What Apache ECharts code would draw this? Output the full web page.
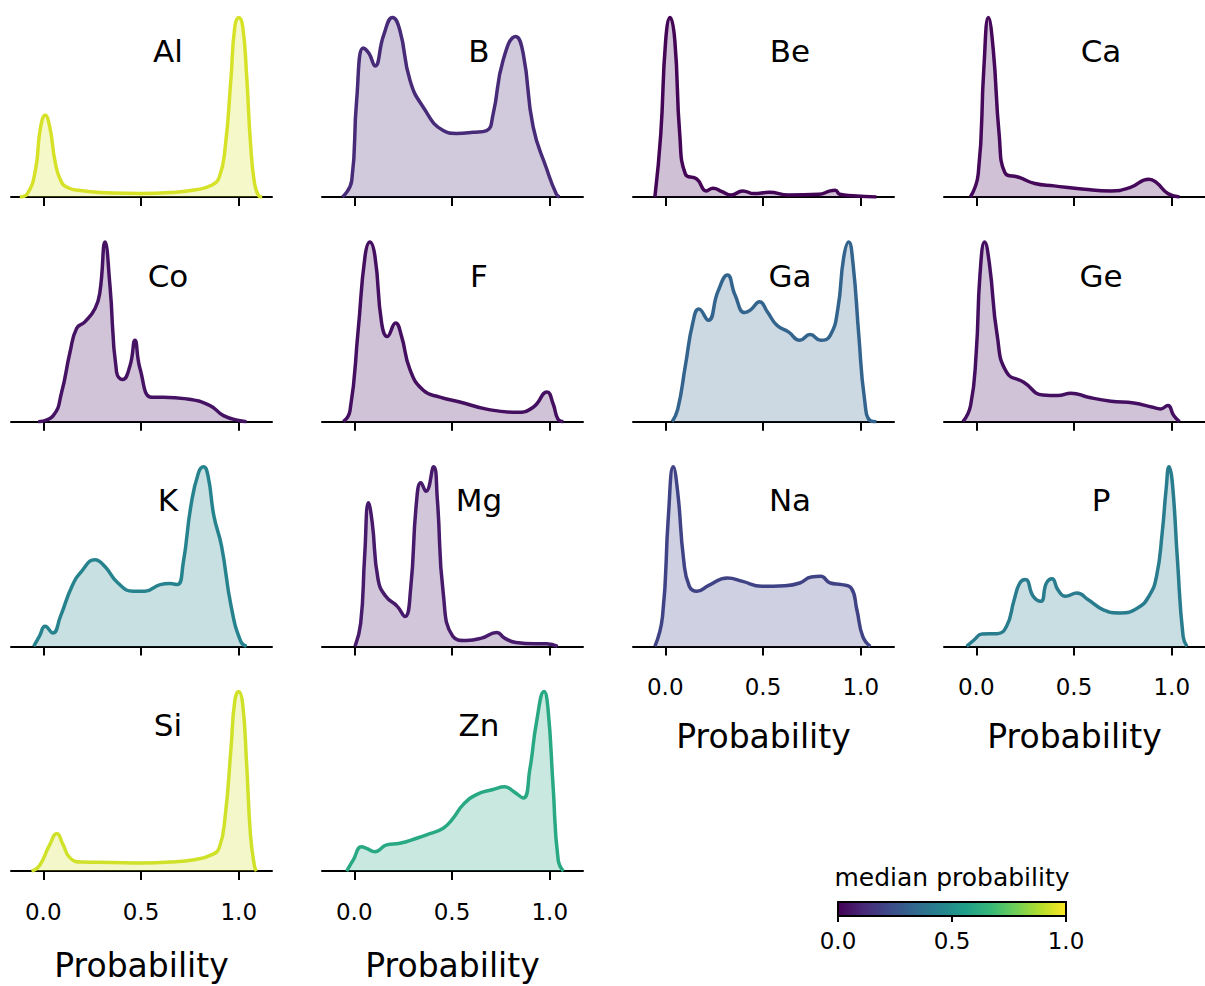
<!DOCTYPE html>
<html lang="en">
<head>
<meta charset="UTF-8" />
<title>Probability densities</title>
<style>
  body { margin: 0; padding: 0; background: #fff; }
  .chart { width: 1205px; height: 986px; }
</style>
</head>
<body>
<div class="chart"></div>
<script src="https://cdn.jsdelivr.net/npm/echarts@6/dist/echarts.min.js"></script>
<script>
// panel order, row by row
const elements = ['Al', 'B', 'Be', 'Ca', 'Co', 'F', 'Ga', 'Ge', 'K', 'Mg', 'Na', 'P', 'Si', 'Zn'];
// median probability of each element (drives the colour)
const medians = [0.94, 0.12, 0.01, 0.02, 0.05, 0.04, 0.32, 0.04, 0.45, 0.07, 0.2, 0.42, 0.93, 0.6];
const tickValues = [0, 0.5, 1];
const cbarTicks = [0, 0.5, 1];

// density curves, normalised so the highest peak is 1
const alCurve = [[-0.12,0],[-0.08,0.02],[-0.04,0.15],[-0.015,0.38],[0.01,0.455],[0.035,0.38],[0.06,0.2],[0.09,0.09],[0.13,0.05],[0.2,0.035],[0.35,0.022],[0.5,0.02],[0.65,0.025],[0.78,0.04],[0.86,0.065],[0.9,0.11],[0.93,0.27],[0.96,0.66],[0.98,0.95],[1.0,1.0],[1.02,0.95],[1.04,0.68],[1.06,0.3],[1.08,0.08],[1.1,0.01],[1.12,0]];
const bCurve = [[-0.06,0],[-0.013,0.09],[0.012,0.536],[0.046,0.83],[0.075,0.8],[0.106,0.73],[0.15,0.9],[0.196,1.0],[0.233,0.93],[0.285,0.65],[0.353,0.5],[0.455,0.37],[0.523,0.354],[0.608,0.36],[0.677,0.37],[0.71,0.46],[0.761,0.76],[0.826,0.894],[0.864,0.8],[0.915,0.39],[0.983,0.16],[1.034,0.015],[1.05,0]];
const beCurve = [[-0.053,0],[-0.023,0.35],[0.002,0.87],[0.025,1.0],[0.049,0.87],[0.074,0.35],[0.103,0.127],[0.162,0.1],[0.21,0.034],[0.244,0.049],[0.29,0.03],[0.337,0.011],[0.396,0.034],[0.454,0.019],[0.532,0.026],[0.63,0.011],[0.786,0.015],[0.844,0.034],[0.87,0.037],[0.893,0.015],[0.96,0.007],[1.08,0]];
const caCurve = [[-0.03,0],[0.01,0.127],[0.039,0.72],[0.062,1.0],[0.087,0.82],[0.117,0.35],[0.146,0.136],[0.223,0.108],[0.3,0.075],[0.398,0.062],[0.553,0.043],[0.689,0.034],[0.786,0.052],[0.883,0.099],[0.922,0.08],[0.98,0.019],[1.04,0]];
const coCurve = [[-0.026,0],[0.051,0.034],[0.094,0.164],[0.137,0.388],[0.171,0.52],[0.213,0.556],[0.265,0.63],[0.29,0.724],[0.316,1.0],[0.341,0.76],[0.375,0.276],[0.406,0.235],[0.444,0.313],[0.469,0.453],[0.495,0.295],[0.555,0.136],[0.614,0.136],[0.734,0.127],[0.853,0.09],[0.922,0.034],[1.007,0.005],[1.04,0]];
const fCurve = [[-0.056,0],[-0.022,0.06],[0.02,0.51],[0.055,0.92],[0.08,1.0],[0.106,0.92],[0.14,0.55],[0.169,0.475],[0.211,0.55],[0.242,0.475],[0.285,0.29],[0.353,0.175],[0.438,0.137],[0.54,0.11],[0.677,0.07],[0.83,0.052],[0.915,0.08],[0.986,0.165],[1.017,0.1],[1.042,0.015],[1.07,0]];
const gaCurve = [[0.035,0],[0.064,0.07],[0.103,0.313],[0.142,0.556],[0.172,0.627],[0.22,0.565],[0.269,0.724],[0.318,0.817],[0.357,0.705],[0.406,0.608],[0.435,0.621],[0.483,0.668],[0.522,0.612],[0.571,0.537],[0.63,0.5],[0.688,0.453],[0.741,0.485],[0.795,0.453],[0.844,0.481],[0.883,0.63],[0.912,0.91],[0.938,1.0],[0.961,0.873],[0.99,0.481],[1.019,0.127],[1.049,0.005],[1.08,0]];
const geCurve = [[-0.068,0],[-0.029,0.09],[0.0,0.388],[0.019,0.817],[0.043,1.0],[0.068,0.873],[0.107,0.481],[0.155,0.276],[0.243,0.22],[0.34,0.149],[0.417,0.146],[0.485,0.159],[0.573,0.136],[0.689,0.114],[0.806,0.104],[0.903,0.08],[0.942,0.071],[0.98,0.09],[1.01,0.034],[1.04,0]];
const kCurve = [[-0.049,0],[-0.02,0.056],[0.01,0.112],[0.049,0.074],[0.088,0.167],[0.147,0.335],[0.196,0.418],[0.265,0.483],[0.314,0.446],[0.382,0.353],[0.461,0.307],[0.52,0.307],[0.598,0.344],[0.647,0.35],[0.686,0.344],[0.716,0.465],[0.755,0.781],[0.794,0.967],[0.82,1.0],[0.843,0.948],[0.873,0.725],[0.912,0.558],[0.961,0.223],[1.01,0.028],[1.04,0]];
const mgCurve = [[0.004,0],[0.033,0.13],[0.053,0.5],[0.073,0.8],[0.092,0.688],[0.122,0.372],[0.161,0.279],[0.22,0.223],[0.259,0.167],[0.288,0.316],[0.318,0.8],[0.341,0.911],[0.367,0.864],[0.406,1.0],[0.425,0.818],[0.455,0.297],[0.504,0.056],[0.573,0.033],[0.651,0.046],[0.729,0.078],[0.769,0.046],[0.827,0.022],[0.925,0.015],[0.984,0.015],[1.04,0]];
const naCurve = [[-0.053,0],[-0.014,0.167],[0.016,0.725],[0.041,1.0],[0.064,0.855],[0.094,0.483],[0.123,0.335],[0.162,0.307],[0.22,0.338],[0.318,0.381],[0.396,0.362],[0.493,0.335],[0.61,0.338],[0.688,0.353],[0.747,0.387],[0.795,0.39],[0.844,0.353],[0.903,0.344],[0.951,0.325],[0.98,0.204],[1.01,0.056],[1.049,0]];
const pCurve = [[-0.049,0],[-0.01,0.037],[0.029,0.069],[0.107,0.071],[0.155,0.112],[0.194,0.26],[0.223,0.353],[0.252,0.372],[0.291,0.279],[0.33,0.251],[0.359,0.353],[0.388,0.377],[0.417,0.316],[0.456,0.279],[0.515,0.297],[0.573,0.26],[0.65,0.204],[0.738,0.186],[0.825,0.214],[0.883,0.279],[0.922,0.39],[0.951,0.632],[0.971,0.874],[0.986,1.0],[1.003,0.911],[1.029,0.483],[1.058,0.056],[1.078,0]];
const siCurve = [[-0.06,0],[-0.02,0.03],[0.03,0.14],[0.07,0.21],[0.1,0.15],[0.14,0.07],[0.2,0.05],[0.35,0.048],[0.5,0.045],[0.65,0.05],[0.78,0.065],[0.86,0.09],[0.9,0.13],[0.93,0.3],[0.96,0.68],[0.98,0.95],[1.0,1.0],[1.02,0.93],[1.04,0.6],[1.06,0.2],[1.08,0.03],[1.09,0]];
const znCurve = [[-0.039,0],[-0.005,0.062],[0.037,0.136],[0.063,0.127],[0.106,0.108],[0.165,0.146],[0.233,0.155],[0.319,0.183],[0.37,0.202],[0.455,0.239],[0.506,0.295],[0.557,0.37],[0.625,0.426],[0.71,0.454],[0.77,0.469],[0.813,0.445],[0.864,0.407],[0.898,0.566],[0.932,0.828],[0.971,1.0],[0.991,0.903],[1.017,0.473],[1.043,0.062],[1.07,0]];

const curves = [alCurve, bCurve, beCurve, caCurve, coCurve, fCurve, gaCurve, geCurve,
  kCurve, mgCurve, naCurve, pCurve, siCurve, znCurve];

const viridis = ['#440154', '#482878', '#3e4989', '#31688e', '#26828e',
  '#1f9e89', '#35b779', '#6ece58', '#b5de2b', '#fde725'];

const font = 'DejaVu Sans';
// which panels carry the tick labels and the axis title
const labelled = ['Na', 'P', 'Si', 'Zn'];

const container = document.querySelector('.chart');
const chart = echarts.init(container, null, { renderer: 'svg' });

const grids = [], xAxes = [], yAxes = [], series = [], graphics = [];
elements.forEach((el, i) => {
  const col = i % 4, row = Math.floor(i / 4);
  const left = 11 + col * 311;
  const top = 12 + row * 224.7;
  const color = echarts.color.lerp(medians[i], viridis);
  const showLab = labelled.indexOf(el) >= 0;
  grids.push({ left: left, top: top, width: 261, height: 185 });
  xAxes.push({
    gridIndex: i, type: 'value', min: -0.165, max: 1.17,
    axisLine: { lineStyle: { color: '#000', width: 2 } },
    axisTick: { show: true, customValues: tickValues, length: 9, lineStyle: { color: '#000', width: 2 } },
    axisLabel: {
      show: showLab, customValues: tickValues, formatter: v => v.toFixed(1),
      fontSize: 23, color: '#000', fontFamily: font, margin: 29
    },
    splitLine: { show: false },
    name: showLab ? 'Probability' : '',
    nameLocation: 'middle', nameGap: row < 3 ? 74 : 78,
    nameTextStyle: { fontSize: 33, color: '#000', fontFamily: font }
  });
  yAxes.push({ gridIndex: i, type: 'value', min: 0, max: 1.03, show: false });
  series.push({
    type: 'line', name: el, xAxisIndex: i, yAxisIndex: i, data: curves[i],
    smooth: 0.5, symbol: 'none', silent: true,
    lineStyle: { color: color, width: 3.5, join: 'round' },
    areaStyle: { color: color, opacity: 0.25 }
  });
  graphics.push({
    type: 'text', x: left + 157, y: top + 39,
    style: { text: el, fontSize: 31, fontFamily: font, fill: '#000', align: 'center', verticalAlign: 'middle' }
  });
});

// colour bar
const cbLeft = 838, cbTop = 902, cbWidth = 228, cbHeight = 14;
grids.push({ left: cbLeft, top: cbTop, width: cbWidth, height: cbHeight });
xAxes.push({
  gridIndex: 14, type: 'value', min: 0, max: 1,
  axisLine: { show: false },
  axisTick: { show: true, customValues: cbarTicks, length: 6, lineStyle: { color: '#000', width: 2 } },
  axisLabel: { customValues: cbarTicks, formatter: v => v.toFixed(1), fontSize: 23, color: '#000', fontFamily: font, margin: 13 },
  splitLine: { show: false }
});
yAxes.push({ gridIndex: 14, type: 'value', min: 0, max: 1, show: false });
graphics.push({
  type: 'rect', shape: { x: cbLeft, y: cbTop, width: cbWidth, height: cbHeight }, z: 10,
  style: {
    fill: new echarts.graphic.LinearGradient(0, 0, 1, 0,
      viridis.map((c, k) => ({ offset: k / (viridis.length - 1), color: c }))),
    stroke: '#000', lineWidth: 2
  }
});
graphics.push({
  type: 'text', x: cbLeft + cbWidth / 2, y: 877,
  style: { text: 'median probability', fontSize: 25, fontFamily: font, fill: '#000', align: 'center', verticalAlign: 'middle' }
});

chart.setOption({
  animation: false,
  backgroundColor: '#fff',
  grid: grids,
  xAxis: xAxes,
  yAxis: yAxes,
  series: series,
  graphic: graphics
});
</script>
</body>
</html>
